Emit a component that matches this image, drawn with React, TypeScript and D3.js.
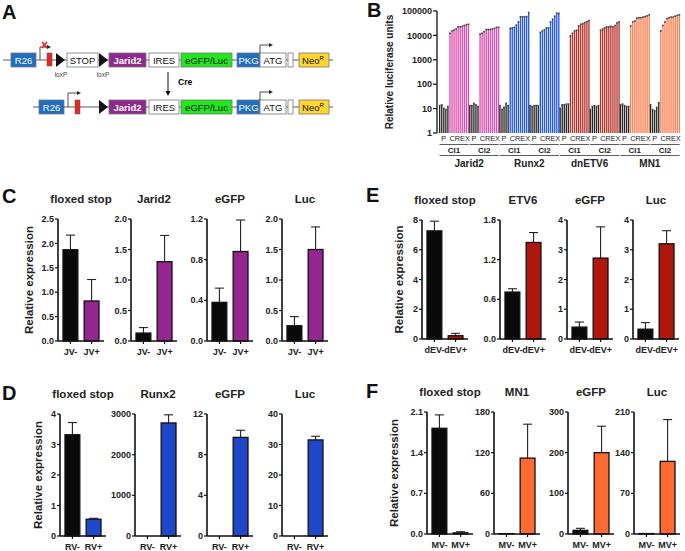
import React from "react";
import * as d3 from "d3";

const FONT = "'Liberation Sans', Arial, Helvetica, sans-serif";

// ---- panel B data ----
const bGenes = ["Jarid2", "Runx2", "dnETV6", "MN1"];
const bClones = ["Cl1", "Cl2"];
const bColors = ["#dc4fae", "#2459e8", "#b5322a", "#ff7d4e"];
const bTicks = [1, 10, 100, 1000, 10000, 100000];
const bTickLabels = ["1", "10", "100", "1000", "10000", "100000"];
// P (parental) values per clone group, Jarid2 Cl1, Cl2, Runx2 Cl1, Cl2 ...
const bPValues = [
  [13, 14, 10, 9, 12],
  [13, 13, 16, 14, 12],
  [13, 9, 11, 16, 13],
  [13, 12, 13, 13, 13],
  [10, 14, 14, 15, 15],
  [9, 12, 13, 12, 13],
  [14, 15, 13, 12, 12],
  [14, 9, 8, 11, 17],
];
const bCrexValues = [
  [12000, 15000, 16000, 18000, 22000, 22000, 23000, 25000, 27000, 28000],
  [11000, 12000, 14000, 17000, 17000, 17000, 18000, 19000, 21000, 21000],
  [19000, 20000, 21000, 26000, 35000, 57000, 57000, 57000, 58000, 85000],
  [13000, 15000, 17000, 20000, 20000, 35000, 45000, 60000, 80000, 78000],
  [9500, 12000, 15000, 16000, 24000, 28000, 30000, 33000, 36000, 40000],
  [16000, 18000, 20000, 22000, 22000, 23000, 22000, 25000, 32000, 35000],
  [24000, 35000, 38000, 50000, 52000, 52000, 55000, 58000, 62000, 68000],
  [15000, 25000, 35000, 48000, 52000, 55000, 55000, 60000, 65000, 68000],
];

// ---- panel C ----
const cTitles = ["floxed stop", "Jarid2", "eGFP", "Luc"];
const cCats = ["JV-", "JV+"];
const cMeans = [[1.87, 0.82], [0.13, 1.3], [0.38, 0.88], [0.25, 1.5]];
const cUpper = [[2.17, 1.26], [0.22, 1.73], [0.52, 1.19], [0.4, 1.87]];
const cTickLabels = [
  ["0.0", "0.5", "1.0", "1.5", "2.0", "2.5"],
  ["0.0", "0.5", "1.0", "1.5", "2.0"],
  ["0.0", "0.4", "0.8", "1.2"],
  ["0.0", "0.5", "1.0", "1.5", "2.0"],
];

// ---- panel D ----
const dTitles = ["floxed stop", "Runx2", "eGFP", "Luc"];
const dCats = ["RV-", "RV+"];
const dMeans = [[3.32, 0.55], [0, 2780], [0, 9.7], [0, 31.5]];
const dUpper = [[3.72, 0.58], [0, 2980], [0, 10.4], [0, 32.7]];
const dTickLabels = [
  ["0", "1", "2", "3", "4"],
  ["0", "1000", "2000", "3000"],
  ["0", "4", "8", "12"],
  ["0", "10", "20", "30", "40"],
];

// ---- panel E ----
const eTitles = ["floxed stop", "ETV6", "eGFP", "Luc"];
const eCats = ["dEV-", "dEV+"];
const eMeans = [[7.27, 0.22], [0.71, 1.46], [0.4, 2.72], [0.33, 3.2]];
const eUpper = [[7.92, 0.38], [0.76, 1.61], [0.57, 3.77], [0.55, 3.64]];
const eTickLabels = [
  ["0", "2", "4", "6", "8"],
  ["0.0", "0.6", "1.2", "1.8"],
  ["0", "1", "2", "3", "4"],
  ["0", "1", "2", "3", "4"],
];

// ---- panel F ----
const fTitles = ["floxed stop", "MN1", "eGFP", "Luc"];
const fCats = ["MV-", "MV+"];
const fMeans = [[1.82, 0.02], [0.5, 112], [9, 200], [0.8, 125]];
const fUpper = [[2.05, 0.04], [0.5, 162], [14, 265], [0.8, 197]];
const fTickLabels = [
  ["0.0", "0.7", "1.4", "2.1"],
  ["0", "60", "120", "180"],
  ["0", "100", "200", "300"],
  ["0", "70", "140", "210"],
];

function Schematic() {
  const box = (x: number, w: number, y: number, fill: string, label: any, color = "#111", bold = false, stroke = "#777") => (
    <g>
      <rect x={x} y={y} width={w} height={14} fill={fill} stroke={stroke} strokeWidth={0.8} />
      <text x={x + w / 2} y={y + 10.5} textAnchor="middle" fontSize={9.5} fill={color} fontWeight={bold ? "bold" : "normal"}>{label}</text>
    </g>
  );
  const neo = (y: number) => (
    <g>
      <rect x={299} y={y} width={30} height={14} fill="#ffd630" stroke="#777" strokeWidth={0.8} />
      <text x={313} y={y + 10.5} textAnchor="middle" fontSize={9.5} fill="#111">Neo<tspan fontSize={6} dy={-3.5}>R</tspan></text>
    </g>
  );
  const tri = (x: number, cy: number) => <path d={`M${x},${cy - 7}L${x + 9},${cy}L${x},${cy + 7}Z`} fill="#111" />;
  const arrow = (x: number, y0: number, y1: number, x1: number) => (
    <g>
      <path d={`M${x},${y0}V${y1}H${x1 - 2}`} fill="none" stroke="#222" strokeWidth={0.8} />
      <path d={`M${x1 - 3},${y1 - 2}L${x1 + 1},${y1}L${x1 - 3},${y1 + 2}Z`} fill="#222" />
    </g>
  );
  const common = (top: number) => (
    <g>
      {box(109, 37, top, "#8e2a8e", "Jarid2", "#fff", true)}
      {box(149, 30, top, "#fff", "IRES")}
      {box(181, 51, top, "#22e61e", "eGFP/Luc")}
      {box(237, 23, top, "#1f6ec2", "PKG", "#fff")}
      {box(260, 26, top, "#fff", "ATG")}
      <rect x={288} y={top} width={5} height={14} fill="#fff" stroke="#777" strokeWidth={0.8} />
      {neo(top)}
      {arrow(260, top, top - 8, 272)}
    </g>
  );
  return (
    <g fontFamily={FONT}>
      <line x1={3} x2={333} y1={60} y2={60} stroke="#333" strokeWidth={0.8} />
      {box(11, 25, 53, "#1f6ec2", "R26", "#fff")}
      {arrow(40, 60, 47, 50)}
      <g stroke="#e8281e" strokeWidth={1.6}>
        <line x1={42} x2={47} y1={42} y2={48} />
        <line x1={47} x2={42} y1={42} y2={48} />
      </g>
      <rect x={47} y={53} width={5} height={13} fill="#e8281e" stroke="#555" strokeWidth={0.5} />
      {tri(56, 60)}
      <text x={61} y={77} textAnchor="middle" fontSize={6.5} fill="#444">loxP</text>
      {box(67, 31, 53, "#fff", "STOP")}
      {tri(99, 60)}
      <text x={103} y={77} textAnchor="middle" fontSize={6.5} fill="#444">loxP</text>
      {common(53)}

      <line x1={168} x2={168} y1={72} y2={92} stroke="#111" strokeWidth={1} />
      <path d="M165.5,91L168,96L170.5,91Z" fill="#111" />
      <text x={178} y={85} fontSize={8.5} fontWeight="bold">Cre</text>

      <line x1={33} x2={333} y1={107} y2={107} stroke="#333" strokeWidth={0.8} />
      {box(39, 25, 100, "#1f6ec2", "R26", "#fff")}
      {arrow(68, 107, 93, 80)}
      <rect x={75} y={100} width={5} height={14} fill="#e8281e" stroke="#555" strokeWidth={0.5} />
      {tri(99, 107)}
      {common(100)}
    </g>
  );
}

function PanelB() {
  const y = d3.scaleLog().domain([1, 100000]).range([133, 11]);
  const groups = d3.range(bGenes.length * bClones.length);
  const xg = d3.scaleBand<number>().domain(groups).range([439, 680]).paddingInner(0);
  const nBars = bPValues[0].length + bCrexValues[0].length;
  const xb = d3.scaleBand<number>().domain(d3.range(nBars)).range([0, xg.bandwidth()]).paddingInner(0.35);
  const axX = 437;
  return (
    <g fontFamily={FONT}>
      {groups.map((g) => {
        const gx = xg(g)!;
        const vals = [...bPValues[g], ...bCrexValues[g]];
        const col = bColors[Math.floor(g / 2)];
        return vals.map((v, i) => {
          const fill = i < bPValues[g].length ? "#262626" : col;
          const x = gx + xb(i)!;
          return (
            <g key={`${g}-${i}`}>
              <rect x={x} y={y(v)} width={xb.bandwidth()} height={133 - y(v)} fill={fill} />
              <rect x={x - 0.2} y={y(v * 1.1)} width={xb.bandwidth() + 0.4} height={y(v) - y(v * 1.1) + 0.6} fill="#444" />
            </g>
          );
        });
      })}
      <line x1={axX} x2={axX} y1={11} y2={133} stroke="#111" strokeWidth={1.3} />
      {bTicks.map((t, i) => (
        <g key={t}>
          <line x1={axX - 4} x2={axX} y1={y(t)} y2={y(t)} stroke="#111" strokeWidth={1.2} />
          <text x={axX - 5} y={y(t)} dy="0.35em" textAnchor="end" fontSize={9} fontWeight="bold" fill="#222">{bTickLabels[i]}</text>
        </g>
      ))}
      <text transform={`translate(393,72) rotate(-90)`} textAnchor="middle" fontSize={10} fontWeight="bold" fill="#222">Relative luciferase units</text>
      {groups.map((g) => {
        const gx = xg(g)!;
        const np = bPValues[g].length;
        const pc = gx + (xb(0)! + xb(np - 1)! + xb.bandwidth()) / 2;
        const cc = gx + (xb(np)! + xb(nBars - 1)! + xb.bandwidth()) / 2;
        return (
          <g key={`lab${g}`}>
            <text x={pc} y={141} textAnchor="middle" fontSize={7.3} fill="#222">P</text>
            <text x={cc + 0.5} y={141} textAnchor="middle" fontSize={7.3} fill="#222">CREX</text>
            <line x1={gx + 0.5} x2={gx + xg.bandwidth() - 0.5} y1={144.5} y2={144.5} stroke="#333" strokeWidth={0.8} />
            <text x={gx + xg.bandwidth() / 2} y={152.5} textAnchor="middle" fontSize={8} fontWeight="bold" fill="#222">{bClones[g % 2]}</text>
          </g>
        );
      })}
      {bGenes.map((gene, k) => {
        const x0 = xg(k * 2)!;
        const x1 = xg(k * 2 + 1)! + xg.bandwidth();
        return (
          <g key={gene}>
            <line x1={x0 + 0.5} x2={x1 - 0.5} y1={155.5} y2={155.5} stroke="#333" strokeWidth={0.8} />
            <text x={(x0 + x1) / 2} y={167} textAnchor="middle" fontSize={10} fontWeight="bold" fill="#222">{gene}</text>
          </g>
        );
      })}
    </g>
  );
}

type MiniProps = {
  ax: number; top: number; bottom: number; title: string; cats: string[];
  means: number[]; upper: number[]; tickLabels: string[]; color: string;
};

function MiniChart({ ax, top, bottom, title, cats, means, upper, tickLabels, color }: MiniProps) {
  const ticks = tickLabels.map(Number);
  const y = d3.scaleLinear().domain([0, ticks[ticks.length - 1]]).range([bottom, top]);
  const x = d3.scaleBand<string>().domain(cats).range([ax + 5, ax + 41]).paddingInner(0.3);
  const bw = x.bandwidth();
  return (
    <g fontFamily={FONT}>
      <text x={ax + 23} y={top - 16} textAnchor="middle" fontSize={11.5} fontWeight="bold" fill="#222">{title}</text>
      {cats.map((c, i) => {
        const bx = x(c)!;
        const cx = bx + bw / 2;
        return (
          <g key={c}>
            {upper[i] > means[i] && (
              <g stroke="#222" strokeWidth={1.1}>
                <line x1={cx} x2={cx} y1={y(means[i])} y2={y(upper[i])} />
                <line x1={cx - 4.5} x2={cx + 4.5} y1={y(upper[i])} y2={y(upper[i])} />
              </g>
            )}
            <rect x={bx} y={y(means[i])} width={bw} height={bottom - y(means[i])} fill={i === 0 ? "#0a0a0a" : color} stroke="#111" strokeWidth={1.3} />
            <line x1={cx} x2={cx} y1={bottom} y2={bottom + 3} stroke="#111" strokeWidth={1.2} />
            <text x={cx} y={bottom + 14} textAnchor="middle" fontSize={9} fontWeight="bold" fill="#222">{c}</text>
          </g>
        );
      })}
      <line x1={ax} x2={ax} y1={top} y2={bottom} stroke="#111" strokeWidth={1.6} />
      <line x1={ax} x2={ax + 46} y1={bottom} y2={bottom} stroke="#111" strokeWidth={1.6} />
      {ticks.map((t, i) => (
        <g key={i}>
          <line x1={ax - 3} x2={ax} y1={y(t)} y2={y(t)} stroke="#111" strokeWidth={1.2} />
          <text x={ax - 4} y={y(t)} dy="0.35em" textAnchor="end" fontSize={9} fontWeight="bold" fill="#222">{tickLabels[i]}</text>
        </g>
      ))}
    </g>
  );
}

function MiniPanel(props: {
  axes: number[]; top: number; bottom: number; titles: string[]; cats: string[];
  means: number[][]; upper: number[][]; tickLabels: string[][]; color: string; labelX: number;
}) {
  const { axes, top, bottom, titles, cats, means, upper, tickLabels, color, labelX } = props;
  return (
    <g>
      <text transform={`translate(${labelX},${(top + bottom) / 2}) rotate(-90)`} textAnchor="middle" fontFamily={FONT} fontSize={11.5} fontWeight="bold" fill="#222">Relative expression</text>
      {axes.map((ax, i) => (
        <MiniChart key={i} ax={ax} top={top} bottom={bottom} title={titles[i]} cats={cats}
          means={means[i]} upper={upper[i]} tickLabels={tickLabels[i]} color={color} />
      ))}
    </g>
  );
}

export default function App() {
  const letter = (t: string, x: number, y: number) => (
    <text x={x} y={y} fontFamily={FONT} fontSize={20} fontWeight="bold" fill="#111">{t}</text>
  );
  return (
    <svg width={685} height={551} style={{ position: "absolute", left: 0, top: 0, background: "#fff" }}>
      <rect width={685} height={551} fill="#fff" />
      {letter("A", 2, 19)}
      {letter("B", 367, 17)}
      {letter("C", 2, 203)}
      {letter("D", 2, 400)}
      {letter("E", 366, 202)}
      {letter("F", 366, 398)}
      <Schematic />
      <PanelB />
      <MiniPanel axes={[58, 131, 207, 282]} top={219} bottom={341} titles={cTitles} cats={cCats}
        means={cMeans} upper={cUpper} tickLabels={cTickLabels} color="#93278f" labelX={33} />
      <MiniPanel axes={[60, 135, 207, 282]} top={414} bottom={536} titles={dTitles} cats={dCats}
        means={dMeans} upper={dUpper} tickLabels={dTickLabels} color="#1f48c8" labelX={42} />
      <MiniPanel axes={[422, 500, 567, 633]} top={220} bottom={339} titles={eTitles} cats={eCats}
        means={eMeans} upper={eUpper} tickLabels={eTickLabels} color="#b0160b" labelX={403} />
      <MiniPanel axes={[427, 494, 568, 634]} top={412} bottom={534} titles={fTitles} cats={fCats}
        means={fMeans} upper={fUpper} tickLabels={fTickLabels} color="#ff6a30" labelX={398} />
    </svg>
  );
}
